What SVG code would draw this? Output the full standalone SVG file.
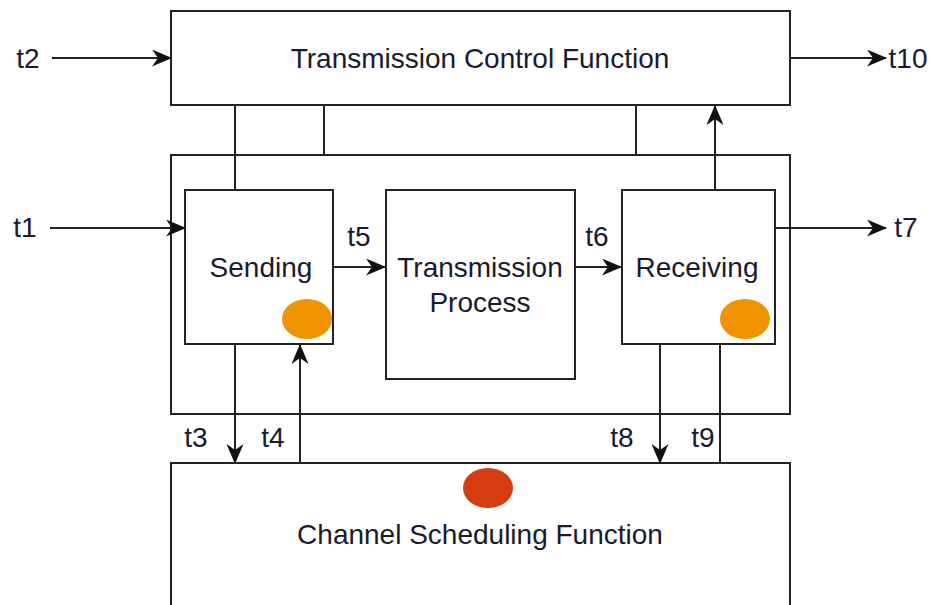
<svg xmlns="http://www.w3.org/2000/svg" width="931" height="605" viewBox="0 0 931 605">
<defs>
<style>
.box{fill:#fff;stroke:#222;stroke-width:2}
.ln{fill:none;stroke:#222;stroke-width:2}
.t{font-family:"Liberation Sans",Arial,sans-serif;font-size:28px;fill:#1a1a2e;text-anchor:middle;dominant-baseline:central}
.or{fill:#F09300}
.rd{fill:#D33D10}
</style>
<marker id="ah" viewBox="0 0 20 17" markerWidth="20" markerHeight="17" refX="19" refY="8.5" orient="auto" markerUnits="userSpaceOnUse">
<path d="M0,0 L20,8.5 L0,17 L6,8.5 z" fill="#111"/>
</marker>
</defs>
<rect width="931" height="605" fill="#fff"/>
<g id="outer"><rect class="box" x="171" y="155" width="619" height="259"/></g>
<g id="tcf"><rect class="box" x="171" y="11" width="619" height="94"/><text class="t" x="480" y="58">Transmission Control Function</text></g>
<g id="sending"><rect class="box" x="185" y="190" width="148" height="154"/><text class="t" x="261" y="267">Sending</text><ellipse class="or" cx="307" cy="319" rx="25" ry="20"/></g>
<g id="process"><rect class="box" x="386" y="190" width="189" height="189"/><text class="t" x="480" y="267">Transmission</text><text class="t" x="480" y="302">Process</text></g>
<g id="receiving"><rect class="box" x="622" y="190" width="153" height="154"/><text class="t" x="697" y="267">Receiving</text><ellipse class="or" cx="745" cy="319" rx="25" ry="20"/></g>
<g id="csf"><rect class="box" x="171" y="463" width="619" height="150"/><ellipse class="rd" cx="488" cy="488" rx="25" ry="20"/><text class="t" x="480" y="534">Channel Scheduling Function</text></g>
<g id="connectors">
<line class="ln" x1="52" y1="58" x2="171" y2="58" marker-end="url(#ah)"/>
<line class="ln" x1="790" y1="58" x2="886" y2="58" marker-end="url(#ah)"/>
<line class="ln" x1="50" y1="228" x2="185" y2="228" marker-end="url(#ah)"/>
<line class="ln" x1="775" y1="228" x2="886" y2="228" marker-end="url(#ah)"/>
<line class="ln" x1="333" y1="267" x2="385" y2="267" marker-end="url(#ah)"/>
<line class="ln" x1="575" y1="267" x2="621" y2="267" marker-end="url(#ah)"/>
<line class="ln" x1="235" y1="105" x2="235" y2="190"/>
<line class="ln" x1="324" y1="105" x2="324" y2="155"/>
<line class="ln" x1="636" y1="105" x2="636" y2="155"/>
<line class="ln" x1="715" y1="190" x2="715" y2="106" marker-end="url(#ah)"/>
<line class="ln" x1="235" y1="344" x2="235" y2="463" marker-end="url(#ah)"/>
<line class="ln" x1="300" y1="463" x2="300" y2="345" marker-end="url(#ah)"/>
<line class="ln" x1="660" y1="344" x2="660" y2="463" marker-end="url(#ah)"/>
<line class="ln" x1="720" y1="344" x2="720" y2="463"/>
</g>
<g id="labels">
<text class="t" x="28" y="58">t2</text>
<text class="t" x="908" y="58">t10</text>
<text class="t" x="25" y="227">t1</text>
<text class="t" x="906" y="227">t7</text>
<text class="t" x="359" y="236">t5</text>
<text class="t" x="597" y="236">t6</text>
<text class="t" x="196" y="437">t3</text>
<text class="t" x="273" y="437">t4</text>
<text class="t" x="622" y="437">t8</text>
<text class="t" x="703" y="437">t9</text>
</g>
</svg>
